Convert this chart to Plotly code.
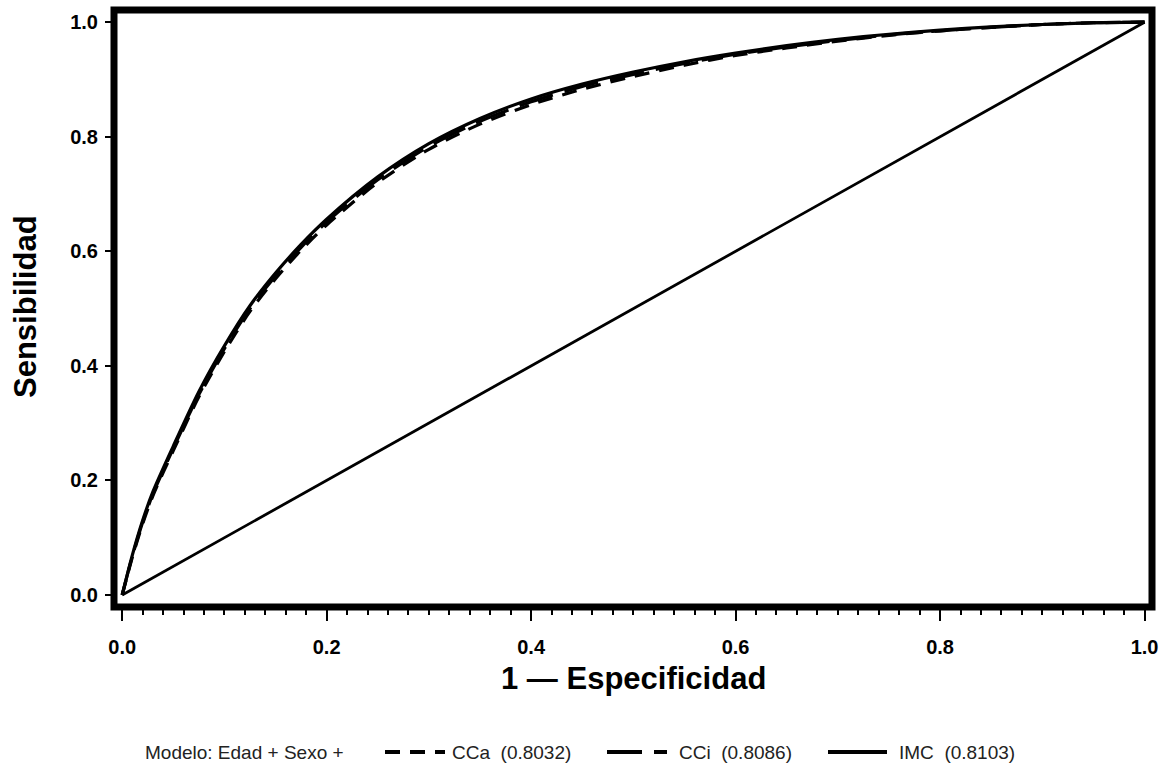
import plotly.graph_objects as go

# 1 - specificity (false positive rate)
fpr = [0, 0.01, 0.02, 0.03, 0.05, 0.075, 0.1, 0.125, 0.15, 0.175, 0.2, 0.25,
       0.3, 0.35, 0.4, 0.45, 0.5, 0.55, 0.6, 0.65, 0.7, 0.75, 0.8, 0.85, 0.9, 0.95, 1.0]
# sensitivity for each model
tpr_imc = [0, 0.070, 0.130, 0.180, 0.260, 0.355, 0.435, 0.505, 0.562, 0.612, 0.656, 0.730,
           0.788, 0.832, 0.866, 0.892, 0.913, 0.931, 0.946, 0.959, 0.970, 0.979, 0.986, 0.992, 0.996, 0.999, 1.0]
tpr_cci = [0, 0.068, 0.127, 0.176, 0.256, 0.350, 0.430, 0.500, 0.557, 0.607, 0.651, 0.725,
           0.783, 0.827, 0.861, 0.888, 0.909, 0.928, 0.944, 0.957, 0.968, 0.978, 0.985, 0.991, 0.996, 0.999, 1.0]
tpr_cca = [0, 0.066, 0.124, 0.173, 0.252, 0.346, 0.425, 0.495, 0.552, 0.602, 0.646, 0.720,
           0.778, 0.822, 0.856, 0.883, 0.905, 0.925, 0.942, 0.955, 0.967, 0.977, 0.985, 0.991, 0.996, 0.999, 1.0]
ref_x = [0, 1]
ref_y = [0, 1]

series_names = ["CCa", "CCi", "IMC"]
auc_labels = ["(0.8032)", "(0.8086)", "(0.8103)"]
legend_prefix = "Modelo: Edad + Sexo +"
x_ticks = [0.0, 0.2, 0.4, 0.6, 0.8, 1.0]
y_ticks = [0.0, 0.2, 0.4, 0.6, 0.8, 1.0]

dashes = ["15px,10px", "35px,12px", "solid"]

fig = go.Figure()
fig.add_trace(go.Scatter(x=ref_x, y=ref_y, mode="lines",
                         line=dict(color="black", width=2.8), showlegend=False, hoverinfo="skip"))
for name, ys, d in zip(series_names, [tpr_cca, tpr_cci, tpr_imc], dashes):
    fig.add_trace(go.Scatter(x=fpr, y=ys, mode="lines", name=name,
                             line=dict(color="black", width=3.2, dash=d, shape="spline", smoothing=0.8),
                             showlegend=False))

W, H = 1167, 769
L, R, T, B = 114, 15, 10, 162
pw, ph = W - L - R, H - T - B

def px(xp):
    return (xp - L) / pw

def py(yp):
    return (H - B - yp) / ph

FONT = "Liberation Sans, Arial, sans-serif"
tickfont = dict(family=FONT, size=20, color="black", weight="bold")

fig.update_layout(
    width=W, height=H,
    margin=dict(l=L, r=R, t=T, b=B, pad=0),
    paper_bgcolor="white", plot_bgcolor="white",
    showlegend=False,
    xaxis=dict(range=[-0.008, 1.0073], tickvals=x_ticks, ticktext=["%.1f" % v for v in x_ticks],
               showgrid=False, zeroline=False, showline=False,
               ticks="outside", ticklen=13, tickwidth=2, tickcolor="black",
               minor=dict(dtick=0.02, tick0=0, ticks="outside", ticklen=7, tickwidth=2, tickcolor="black", showgrid=False),
               tickfont=tickfont, ticklabelstandoff=9),
    yaxis=dict(range=[-0.021, 1.0213], tickvals=y_ticks, ticktext=["%.1f" % v for v in y_ticks],
               showgrid=False, zeroline=False, showline=False,
               ticks="outside", ticklen=8, tickwidth=2, tickcolor="black",
               tickfont=tickfont, ticklabelstandoff=3),
)

shapes = [dict(type="rect", xref="paper", yref="paper", x0=0, x1=1, y0=0, y1=1,
               line=dict(color="black", width=7), fillcolor="rgba(0,0,0,0)", layer="above")]

# legend samples
leg_y = py(752)
samples = [(385, 445), (607, 667), (828, 887)]
text_x = [450, 677, 897]
annotations = [
    dict(text="Sensibilidad", xref="paper", yref="paper", x=px(25), y=py(307), showarrow=False,
         textangle=-90, font=dict(family=FONT, size=31, color="black", weight="bold"),
         xanchor="center", yanchor="middle"),
    dict(text="1 \u2014 Especificidad", xref="paper", yref="paper", x=px(633), y=py(678), showarrow=False,
         font=dict(family=FONT, size=31, color="black", weight="bold"),
         xanchor="center", yanchor="middle"),
    dict(text=legend_prefix, xref="paper", yref="paper", x=px(143), y=leg_y, showarrow=False,
         font=dict(family=FONT, size=19, color="#222"),
         xanchor="left", yanchor="middle"),
]
for (a, b), d, tx, nm, auc in zip(samples, dashes, text_x, series_names, auc_labels):
    shapes.append(dict(type="line", xref="paper", yref="paper", x0=px(a), x1=px(b), y0=leg_y, y1=leg_y,
                       line=dict(color="black", width=4, dash=d)))
    annotations.append(dict(text=nm + "\u00a0\u00a0" + auc, xref="paper", yref="paper", x=px(tx), y=leg_y,
                            showarrow=False, xanchor="left", yanchor="middle",
                            font=dict(family=FONT, size=19, color="#222")))

fig.update_layout(shapes=shapes, annotations=annotations)
fig.write_html("out.html")
